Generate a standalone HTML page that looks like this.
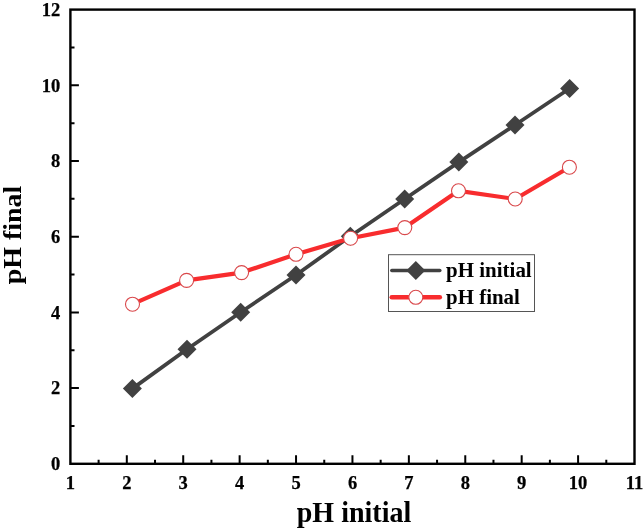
<!DOCTYPE html><html><head><meta charset="utf-8"><style>html,body{margin:0;padding:0;background:#fff}svg{display:block;will-change:transform}text{font-family:"Liberation Serif",serif;font-weight:bold;fill:#000}</style></head><body>
<svg width="644" height="531" viewBox="0 0 644 531">
<rect width="644" height="531" fill="#fff"/>
<path d="M98.61 463.8 V459.7 M126.81 463.8 V455.3 M155.02 463.8 V459.7 M183.22 463.8 V455.3 M211.43 463.8 V459.7 M239.63 463.8 V455.3 M267.84 463.8 V459.7 M296.04 463.8 V455.3 M324.25 463.8 V459.7 M352.45 463.8 V455.3 M380.66 463.8 V459.7 M408.86 463.8 V455.3 M437.06 463.8 V459.7 M465.27 463.8 V455.3 M493.47 463.8 V459.7 M521.68 463.8 V455.3 M549.89 463.8 V459.7 M578.09 463.8 V455.3 M606.30 463.8 V459.7 M70.4 425.95 H74.5 M70.4 388.10 H78.9 M70.4 350.25 H74.5 M70.4 312.40 H78.9 M70.4 274.55 H74.5 M70.4 236.70 H78.9 M70.4 198.85 H74.5 M70.4 161.00 H78.9 M70.4 123.15 H74.5 M70.4 85.30 H78.9 M70.4 47.45 H74.5" stroke="#000" stroke-width="2" fill="none"/>
<rect x="70.4" y="9.6" width="564.1" height="454.2" fill="none" stroke="#000" stroke-width="2.4"/>
<text x="70.4" y="488.7" font-size="18.5" stroke="#000" stroke-width="0.25" text-anchor="middle">1</text>
<text x="126.8" y="488.7" font-size="18.5" stroke="#000" stroke-width="0.25" text-anchor="middle">2</text>
<text x="183.2" y="488.7" font-size="18.5" stroke="#000" stroke-width="0.25" text-anchor="middle">3</text>
<text x="239.6" y="488.7" font-size="18.5" stroke="#000" stroke-width="0.25" text-anchor="middle">4</text>
<text x="296.0" y="488.7" font-size="18.5" stroke="#000" stroke-width="0.25" text-anchor="middle">5</text>
<text x="352.5" y="488.7" font-size="18.5" stroke="#000" stroke-width="0.25" text-anchor="middle">6</text>
<text x="408.9" y="488.7" font-size="18.5" stroke="#000" stroke-width="0.25" text-anchor="middle">7</text>
<text x="465.3" y="488.7" font-size="18.5" stroke="#000" stroke-width="0.25" text-anchor="middle">8</text>
<text x="521.7" y="488.7" font-size="18.5" stroke="#000" stroke-width="0.25" text-anchor="middle">9</text>
<text x="578.1" y="488.7" font-size="18.5" stroke="#000" stroke-width="0.25" text-anchor="middle">10</text>
<text x="634.5" y="488.7" font-size="18.5" stroke="#000" stroke-width="0.25" text-anchor="middle">11</text>
<text x="60.3" y="470.0" font-size="18.5" stroke="#000" stroke-width="0.25" text-anchor="end">0</text>
<text x="60.3" y="394.3" font-size="18.5" stroke="#000" stroke-width="0.25" text-anchor="end">2</text>
<text x="60.3" y="318.6" font-size="18.5" stroke="#000" stroke-width="0.25" text-anchor="end">4</text>
<text x="60.3" y="242.9" font-size="18.5" stroke="#000" stroke-width="0.25" text-anchor="end">6</text>
<text x="60.3" y="167.2" font-size="18.5" stroke="#000" stroke-width="0.25" text-anchor="end">8</text>
<text x="60.3" y="91.5" font-size="18.5" stroke="#000" stroke-width="0.25" text-anchor="end">10</text>
<text x="60.3" y="15.8" font-size="18.5" stroke="#000" stroke-width="0.25" text-anchor="end">12</text>
<text x="354.0" y="522.1" font-size="28.8" text-anchor="middle" textLength="114.4" lengthAdjust="spacingAndGlyphs">pH initial</text>
<text transform="translate(20.5,235.0) rotate(-90)" font-size="25.8" text-anchor="middle" textLength="98.6" lengthAdjust="spacingAndGlyphs">pH final</text>
<polyline points="132.4,388.6 187.0,349.3 240.7,312.3 296.0,275.0 350.3,236.2 404.7,199.0 458.8,162.1 515.0,125.0 569.6,88.5" fill="none" stroke="#414141" stroke-width="3.8" stroke-linejoin="round"/>
<path d="M122.9 388.6 L132.4 379.1 L141.9 388.6 L132.4 398.1Z" fill="#414141"/>
<path d="M177.5 349.3 L187.0 339.8 L196.5 349.3 L187.0 358.8Z" fill="#414141"/>
<path d="M231.2 312.3 L240.7 302.8 L250.2 312.3 L240.7 321.8Z" fill="#414141"/>
<path d="M286.5 275.0 L296.0 265.5 L305.5 275.0 L296.0 284.5Z" fill="#414141"/>
<path d="M340.8 236.2 L350.3 226.7 L359.8 236.2 L350.3 245.7Z" fill="#414141"/>
<path d="M395.2 199.0 L404.7 189.5 L414.2 199.0 L404.7 208.5Z" fill="#414141"/>
<path d="M449.3 162.1 L458.8 152.6 L468.3 162.1 L458.8 171.6Z" fill="#414141"/>
<path d="M505.5 125.0 L515.0 115.5 L524.5 125.0 L515.0 134.5Z" fill="#414141"/>
<path d="M560.1 88.5 L569.6 79.0 L579.1 88.5 L569.6 98.0Z" fill="#414141"/>
<polyline points="132.5,304.2 186.6,280.4 241.6,272.6 296.0,254.3 350.6,238.2 404.8,227.6 458.5,190.8 515.2,199.0 569.4,167.2" fill="none" stroke="#f82c2e" stroke-width="4.2" stroke-linejoin="round"/>
<circle cx="132.5" cy="304.2" r="7" fill="#fff" stroke="#d9484b" stroke-width="1.1"/>
<circle cx="186.6" cy="280.4" r="7" fill="#fff" stroke="#d9484b" stroke-width="1.1"/>
<circle cx="241.6" cy="272.6" r="7" fill="#fff" stroke="#d9484b" stroke-width="1.1"/>
<circle cx="296.0" cy="254.3" r="7" fill="#fff" stroke="#d9484b" stroke-width="1.1"/>
<circle cx="350.6" cy="238.2" r="7" fill="#fff" stroke="#d9484b" stroke-width="1.1"/>
<circle cx="404.8" cy="227.6" r="7" fill="#fff" stroke="#d9484b" stroke-width="1.1"/>
<circle cx="458.5" cy="190.8" r="7" fill="#fff" stroke="#d9484b" stroke-width="1.1"/>
<circle cx="515.2" cy="199.0" r="7" fill="#fff" stroke="#d9484b" stroke-width="1.1"/>
<circle cx="569.4" cy="167.2" r="7" fill="#fff" stroke="#d9484b" stroke-width="1.1"/>
<rect x="388.5" y="254.7" width="146" height="56.8" fill="#fff" stroke="#555" stroke-width="1"/>
<path d="M391.8 270.4 H439.8" stroke="#414141" stroke-width="3.5" stroke-linecap="round"/>
<path d="M406.3 270.4 L415.8 260.9 L425.3 270.4 L415.8 279.9Z" fill="#414141"/>
<path d="M391.8 297.3 H439.8" stroke="#f82c2e" stroke-width="4.6" stroke-linecap="round"/>
<circle cx="415.8" cy="297.3" r="7" fill="#fff" stroke="#d9484b" stroke-width="1.1"/>
<text x="446.1" y="277.3" font-size="20" textLength="85.6" lengthAdjust="spacingAndGlyphs">pH initial</text>
<text x="446.1" y="304.1" font-size="20" textLength="73.8" lengthAdjust="spacingAndGlyphs">pH final</text>
</svg></body></html>
